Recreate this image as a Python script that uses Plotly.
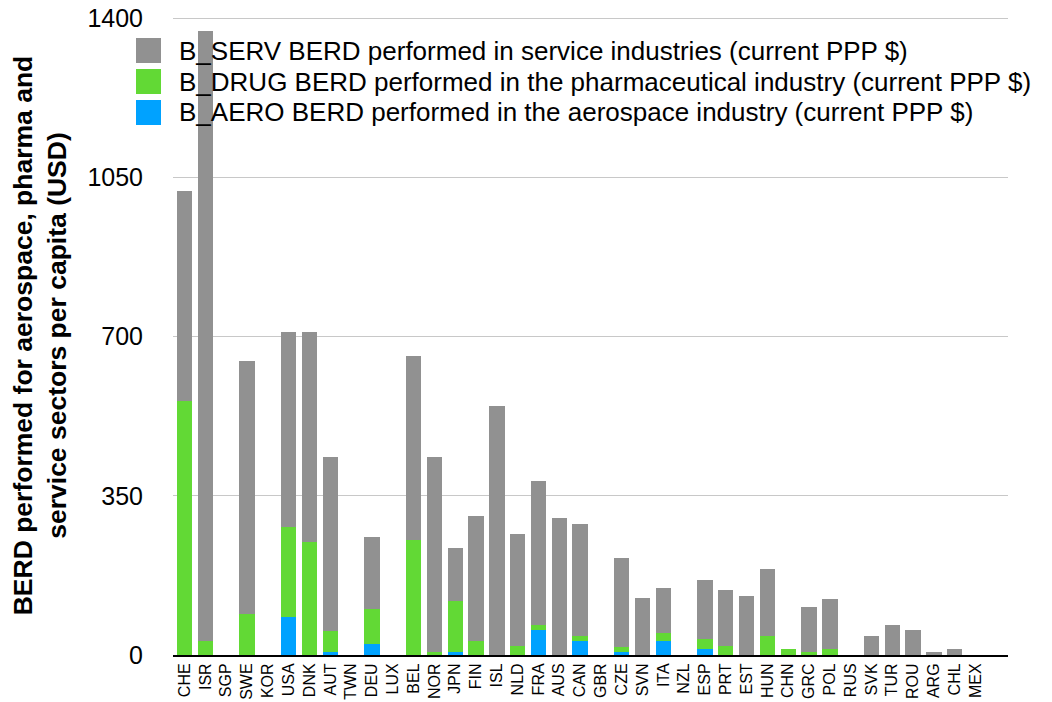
import plotly.graph_objects as go

countries = ["CHE", "ISR", "SGP", "SWE", "KOR", "USA", "DNK", "AUT", "TWN", "DEU",
             "LUX", "BEL", "NOR", "JPN", "FIN", "ISL", "NLD", "FRA", "AUS", "CAN",
             "GBR", "CZE", "SVN", "ITA", "NZL", "ESP", "PRT", "EST", "HUN", "CHN",
             "GRC", "POL", "RUS", "SVK", "TUR", "ROU", "ARG", "CHL", "MEX"]

aero = [0, 0, 0, 0, 0, 83, 0, 7, 0, 25,
        0, 0, 0, 7, 0, 0, 0, 56, 0, 31,
        0, 7, 0, 31, 0, 13, 0, 0, 0, 0,
        0, 0, 0, 0, 0, 0, 0, 0, 0]

drug = [558, 31, 0, 91, 0, 198, 249, 46, 0, 76,
        0, 253, 7, 112, 31, 0, 20, 10, 0, 11,
        0, 11, 0, 17, 0, 22, 20, 0, 42, 13,
        7, 13, 0, 0, 0, 0, 0, 0, 0]

serv = [462, 1340, 0, 555, 0, 429, 461, 382, 0, 158,
        0, 404, 428, 116, 274, 547, 246, 316, 301, 246,
        0, 195, 125, 99, 0, 130, 123, 130, 147, 0,
        98, 110, 0, 42, 66, 55, 7, 13, 0]

y_ticks = [0, 350, 700, 1050, 1400]

series_names = [
    "B_AERO BERD performed in the aerospace industry (current PPP $)",
    "B_DRUG BERD performed in the pharmaceutical industry (current PPP $)",
    "B_SERV BERD performed in service industries (current PPP $)",
]
series_values = [aero, drug, serv]
series_colors = ["#00a2ff", "#62d935", "#919191"]

FONT = "Liberation Sans, Arial, Helvetica, sans-serif"

# figure geometry (page has an 8px body margin)
W, H = 1044, 694
ML, MR, MT, MB = 165, 44, 8, 47
PW = W - ML - MR
PH = H - MT - MB
Y_MAX = 1404.4   # small headroom so the top gridline is drawn inside the plot

fig = go.Figure()
for name, vals, color in zip(series_names, series_values, series_colors):
    fig.add_trace(go.Bar(
        x=list(range(len(countries))), y=vals, name=name,
        marker=dict(color=color, line=dict(width=0)),
        width=0.74, showlegend=False,
    ))

# legend drawn as boxes + text (top entry first, as in reference)
shapes = []
annotations = []
legend_left_px = -37      # relative to plot area left edge
legend_top_px = 22        # relative to plot area top edge
box = 25
row_h = 31
for i, idx in enumerate([2, 1, 0]):
    top = legend_top_px + i * row_h
    shapes.append(dict(
        type="rect", xref="paper", yref="paper",
        x0=legend_left_px / PW, x1=(legend_left_px + box) / PW,
        y0=1 - (top + box) / PH, y1=1 - top / PH,
        fillcolor=series_colors[idx], line=dict(width=0), layer="above",
    ))
    annotations.append(dict(
        xref="paper", yref="paper",
        x=(legend_left_px + box + 16) / PW, y=1 - (top + box / 2) / PH,
        xanchor="left", yanchor="middle", showarrow=False,
        text=series_names[idx],
        font=dict(size=26, family=FONT, color="black"),
    ))

fig.update_layout(
    barmode="stack",
    width=W, height=H,
    margin=dict(l=ML, r=MR, t=MT, b=MB),
    paper_bgcolor="white", plot_bgcolor="white",
    font=dict(family=FONT, color="black"),
    showlegend=False,
    shapes=shapes,
    annotations=annotations,
    xaxis=dict(
        tickmode="array",
        tickvals=list(range(len(countries))),
        ticktext=countries,
        tickangle=-90,
        tickfont=dict(size=16, family=FONT, color="black"),
        range=[-0.56, 39.56],
        showgrid=False, zeroline=False,
        showline=True, linecolor="black", linewidth=2,
        ticks="", automargin=False,
    ),
    yaxis=dict(
        range=[0, Y_MAX],
        tickmode="array", tickvals=y_ticks,
        ticktext=[str(v) for v in y_ticks],
        tickfont=dict(size=25, family=FONT, color="black"),
        ticklabeloverflow="allow",
        showgrid=True, gridcolor="#c8c8c8", gridwidth=1,
        zeroline=False, showline=False,
        ticks="outside", ticklen=24, tickcolor="rgba(0,0,0,0)",
        title=dict(
            text="BERD performed for aerospace, pharma and<br>service sectors per capita (USD)",
            font=dict(size=26.5, family=FONT, color="black", weight="bold"),
            standoff=22,
        ),
        automargin=False,
    ),
)

fig.write_html("out.html")
